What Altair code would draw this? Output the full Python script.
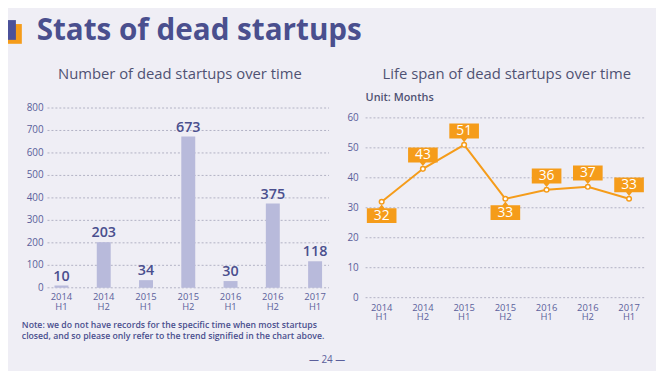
import altair as alt
import pandas as pd

# ---------------- data ----------------
periods = ["2014 H1", "2014 H2", "2015 H1", "2015 H2", "2016 H1", "2016 H2", "2017 H1"]
period_labels = ["2014\nH1", "2014\nH2", "2015\nH1", "2015\nH2", "2016\nH1", "2016\nH2", "2017\nH1"]
dead_counts = [10, 203, 34, 673, 30, 375, 118]
lifespan_months = [32, 43, 51, 33, 36, 37, 33]
label_side = ["below", "above", "above", "below", "above", "above", "above"]
left_ticks = [0, 100, 200, 300, 400, 500, 600, 700, 800]
right_ticks = [0, 10, 20, 30, 40, 50, 60]

main_title = "Stats of dead startups"
left_title = "Number of dead startups over time"
right_title = "Life span of dead startups over time"
unit_text = "Unit: Months"
note_lines = [
    "Note: we do not have records for the specific time when most startups",
    "closed, and so please only refer to the trend signified in the chart above.",
]
page_no = "— 24 —"

# ---------------- style ----------------
BG = "#efeef5"
NAVY = "#4a4f8e"
TITLE_GRAY = "#4f5273"
AXIS_C = "#5b5f9b"
BAR_C = "#b8badb"
ORANGE = "#f59c1a"
GRID_C = "#a3a3b8"
FONT = "Open Sans"

left_df = pd.DataFrame({"period": periods, "label": period_labels, "count": dead_counts})
right_df = pd.DataFrame({"period": periods, "label": period_labels,
                         "months": lifespan_months, "side": label_side})
lt_df = pd.DataFrame({"v": left_ticks})
rt_df = pd.DataFrame({"v": right_ticks})

# ---------------- left chart ----------------
xl = alt.X("period:N", sort=periods, axis=None,
           scale=alt.Scale(domain=periods, range=[40, 325], paddingInner=0.67, paddingOuter=0.165))
yl_scale = alt.Scale(domain=[0, 800], range=[281, 99])

l_grid = alt.Chart(lt_df).mark_rule(color=GRID_C, strokeWidth=0.8, strokeDash=[2, 2]).encode(
    y=alt.Y("v:Q", scale=yl_scale, axis=None), x=alt.value(40), x2=alt.value(325))
l_ticks = alt.Chart(lt_df).mark_text(align="right", baseline="middle", fontSize=10,
                                      font=FONT, color=AXIS_C).encode(
    y=alt.Y("v:Q", scale=yl_scale, axis=None), x=alt.value(36), text="v:Q")
l_bars = alt.Chart(left_df).mark_bar(color=BAR_C).encode(
    x=xl, y=alt.Y("count:Q", scale=yl_scale, axis=None))
l_vals = alt.Chart(left_df).mark_text(baseline="bottom", dy=-2, fontSize=14.5, fontWeight=600,
                                       font=FONT, color=NAVY).encode(
    x=xl, y=alt.Y("count:Q", scale=yl_scale, axis=None), text="count:Q")
l_xlab = alt.Chart(left_df).mark_text(baseline="top", fontSize=9.5, lineHeight=10, lineBreak="\n",
                                       font=FONT, color=AXIS_C).encode(
    x=xl, y=alt.value(285), text="label:N")
left = alt.layer(l_grid, l_ticks, l_bars, l_vals, l_xlab)

# ---------------- right chart ----------------
xr = alt.X("period:N", sort=periods, axis=None,
           scale=alt.Scale(type="point", domain=periods, range=[362, 645], padding=0.39))
yr_scale = alt.Scale(domain=[0, 60], range=[291, 109])
yr = alt.Y("months:Q", scale=yr_scale, axis=None)

r_grid = alt.Chart(rt_df).mark_rule(color=GRID_C, strokeWidth=0.8, strokeDash=[2, 2]).encode(
    y=alt.Y("v:Q", scale=yr_scale, axis=None), x=alt.value(362), x2=alt.value(645))
r_ticks = alt.Chart(rt_df).mark_text(align="right", baseline="middle", fontSize=10,
                                      font=FONT, color=AXIS_C).encode(
    y=alt.Y("v:Q", scale=yr_scale, axis=None), x=alt.value(355), text="v:Q")
r_line = alt.Chart(right_df).mark_line(color=ORANGE, strokeWidth=2).encode(x=xr, y=yr)

above_path = "M-1,-0.5H1V0.5H0.2L0,0.75L-0.2,0.5H-1Z"
below_path = "M-1,-0.5H-0.2L0,-0.75L0.2,-0.5H1V0.5H-1Z"
r_box_up = alt.Chart(right_df).transform_filter(alt.datum.side == "above").mark_point(
    shape=above_path, size=900, filled=True, color=ORANGE, opacity=1, yOffset=-14).encode(x=xr, y=yr)
r_box_dn = alt.Chart(right_df).transform_filter(alt.datum.side == "below").mark_point(
    shape=below_path, size=900, filled=True, color=ORANGE, opacity=1, yOffset=14).encode(x=xr, y=yr)
r_pts = alt.Chart(right_df).mark_point(shape="circle", size=22, filled=True, fill="white",
                                        stroke=ORANGE, strokeWidth=1.5, opacity=1).encode(x=xr, y=yr)
r_txt_up = alt.Chart(right_df).transform_filter(alt.datum.side == "above").mark_text(
    baseline="middle", dy=-14, fontSize=14, font=FONT, color="white").encode(
    x=xr, y=yr, text="months:Q")
r_txt_dn = alt.Chart(right_df).transform_filter(alt.datum.side == "below").mark_text(
    baseline="middle", dy=14, fontSize=14, font=FONT, color="white").encode(
    x=xr, y=yr, text="months:Q")
r_xlab = alt.Chart(right_df).mark_text(baseline="top", fontSize=9.5, lineHeight=10, lineBreak="\n",
                                        font=FONT, color=AXIS_C).encode(
    x=xr, y=alt.value(296), text="label:N")
right = alt.layer(r_grid, r_ticks, r_line, r_box_up, r_box_dn, r_pts, r_txt_up, r_txt_dn, r_xlab)

# ---------------- decorations & titles ----------------
one = pd.DataFrame({"t": [0]})
sq_orange = alt.Chart(one).mark_rect(color=ORANGE).encode(
    x=alt.value(-2), x2=alt.value(14), y=alt.value(14), y2=alt.value(34))
sq_blue = alt.Chart(one).mark_rect(color="#4b519a").encode(
    x=alt.value(-8), x2=alt.value(8), y=alt.value(10), y2=alt.value(30))


def label(text, x, y, size, weight="normal", color=TITLE_GRAY, align="center"):
    return alt.Chart(pd.DataFrame({"t": [text]})).mark_text(
        fontSize=size, fontWeight=weight, color=color, font=FONT, align=align,
        baseline="middle").encode(text="t:N", x=alt.value(x), y=alt.value(y))


deco = alt.layer(
    sq_orange, sq_blue,
    label(main_title, 29, 21, 30, "bold", NAVY, "left"),
    label(left_title, 174, 65, 15),
    label(right_title, 505, 65, 15),
    label(unit_text, 362, 89, 11, 600, TITLE_GRAY, "left"),
    label(note_lines[0], 14, 319, 8.8, 600, NAVY, "left"),
    label(note_lines[1], 14, 330, 8.8, 600, NAVY, "left"),
    label(page_no, 323, 354, 10, "normal", AXIS_C),
)

chart = alt.layer(left, right, deco).resolve_scale(x="independent", y="independent").properties(
    width=656, height=363, padding=0, autosize=alt.AutoSizeParams(type="none"),
    background=BG,
).configure_view(stroke=None)

chart.save("out.html", embed_options={"renderer": "svg", "actions": False})
